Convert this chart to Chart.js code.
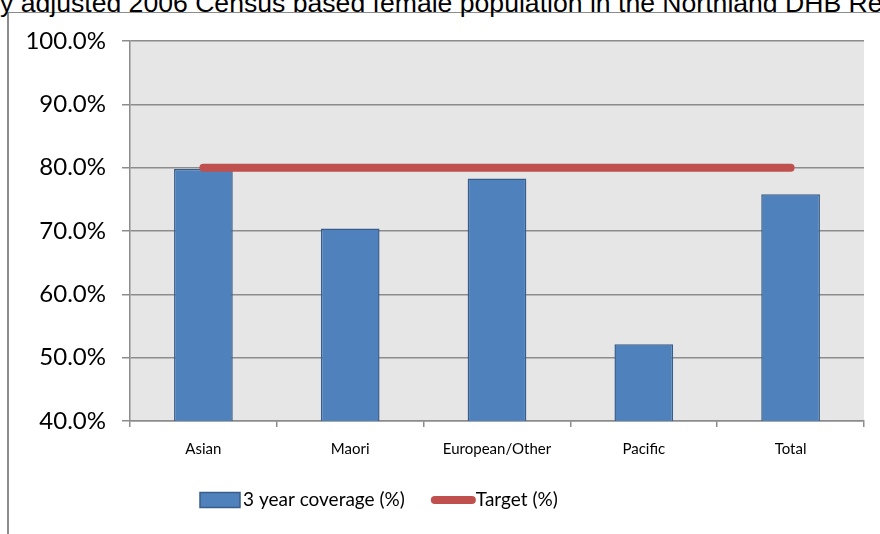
<!DOCTYPE html>
<html>
<head>
<meta charset="utf-8">
<script src="https://cdn.jsdelivr.net/npm/chart.js@4.4.1/dist/chart.umd.min.js"></script>
<style>
  body { margin: 0; width: 880px; height: 534px; overflow: hidden; background: #fff; position: relative; }
  #frame { position: absolute; left: 7px; top: 12px; width: 900px; height: 600px; border-left: 2px solid #8c8c8c; border-top: 1.5px solid #8c8c8c; }
  #title { position: absolute; left: 0; top: -10px; line-height: 26px; white-space: nowrap; font-family: "Liberation Sans", Arial, sans-serif; font-size: 26.6px; color: #000; }
  #wrap { position: absolute; left: 0; top: 0; width: 880px; height: 534px; }
</style>
</head>
<body>
<div id="frame"></div>
<div id="title">y adjusted 2006 Census based female population in the Northland DHB Re</div>
<div id="wrap"><canvas id="chart"></canvas></div>
<script>
const categories = ["Asian", "Maori", "European/Other", "Pacific", "Total"];
const coverage = [79.8, 70.4, 78.3, 52.1, 75.8];
const target = [80, 80, 80, 80, 80];
const yTicks = { min: 40, max: 100, step: 10 };

const plotBackground = {
  id: "plotBackground",
  beforeDraw(chart) {
    const { ctx, chartArea } = chart;
    ctx.save();
    ctx.fillStyle = "#e6e6e6";
    ctx.fillRect(chartArea.left, chartArea.top, chartArea.right - chartArea.left, chartArea.bottom - chartArea.top);
    ctx.restore();
  }
};

// legend drawn by hand so the spacing follows the original (box hugs the text)
const bottomLegend = {
  id: "bottomLegend",
  afterDraw(chart) {
    const ctx = chart.ctx;
    const bar = chart.data.datasets[1];
    const line = chart.data.datasets[0];
    const y = 500;
    let x = 200;
    ctx.save();
    ctx.font = "19px Lato, 'Open Sans', sans-serif";
    ctx.textBaseline = "middle";
    ctx.fillStyle = bar.backgroundColor;
    ctx.fillRect(x, y - 7.5, 40, 15);
    ctx.strokeStyle = bar.borderColor;
    ctx.lineWidth = 1.5;
    ctx.strokeRect(x, y - 7.5, 40, 15);
    x += 43;
    ctx.fillStyle = "#000";
    ctx.fillText(bar.label, x, y);
    x += ctx.measureText(bar.label).width + 30;
    ctx.strokeStyle = line.borderColor;
    ctx.lineWidth = line.borderWidth;
    ctx.lineCap = "round";
    ctx.beginPath();
    ctx.moveTo(x, y);
    ctx.lineTo(x + 37, y);
    ctx.stroke();
    x += 41;
    ctx.fillText(line.label, x, y);
    ctx.restore();
  }
};

new Chart(document.getElementById("chart"), {
  data: {
    labels: categories,
    datasets: [
      {
        type: "line",
        label: "Target (%)",
        data: target,
        borderColor: "#c0504d",
        backgroundColor: "#c0504d",
        borderWidth: 8,
        borderCapStyle: "round",
        pointRadius: 0,
        order: 0,
      },
      {
        type: "bar",
        label: "3 year coverage (%)",
        data: coverage,
        backgroundColor: "#4f81bd",
        borderColor: "#385d8a",
        borderWidth: 1.5,
        barPercentage: 0.4,
        categoryPercentage: 1,
        order: 1,
      }
    ]
  },
  options: {
    responsive: true,
    maintainAspectRatio: false,
    animation: false,
    layout: { padding: { left: 8, right: 16, top: 41, bottom: 63 } },
    plugins: {
      tooltip: { enabled: false },
      legend: { display: false }
    },
    scales: {
      x: {
        grid: { drawOnChartArea: false, drawTicks: true, tickLength: 6, offset: true, color: "#8c8c8c", lineWidth: 1.5 },
        border: { color: "#8c8c8c", width: 1.5 },
        ticks: { color: "#000", padding: 13, maxRotation: 0, font: { family: "Lato, 'Open Sans', sans-serif", size: 15 } },
      },
      y: {
        min: yTicks.min,
        max: yTicks.max,
        afterFit(scale) { scale.width = 122; },
        grid: { color: "#8c8c8c", lineWidth: 1.5, tickLength: 8 },
        border: { color: "#8c8c8c", width: 1.5 },
        ticks: {
          stepSize: yTicks.step,
          padding: 16,
          color: "#000",
          font: { family: "Lato, 'Open Sans', sans-serif", size: 24 },
          callback: (v) => v.toFixed(1) + "%",
        }
      }
    }
  },
  plugins: [plotBackground, bottomLegend]
});
</script>
</body>
</html>
